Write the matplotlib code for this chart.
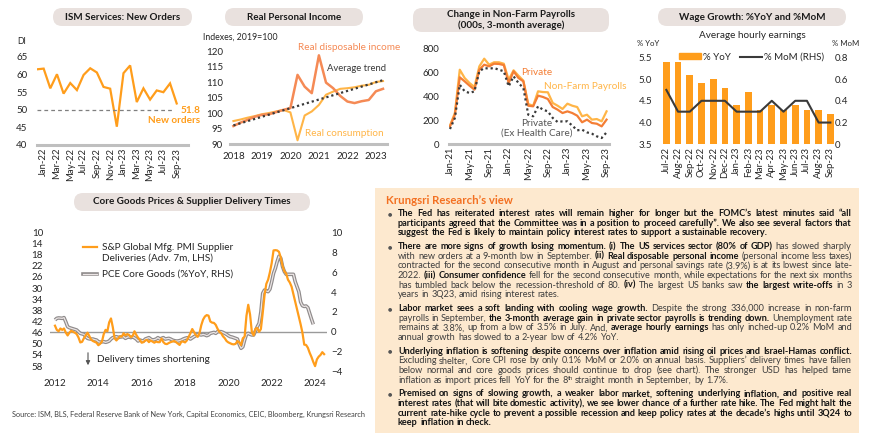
import re
import numpy as np
import pandas as pd
import matplotlib
matplotlib.use('Agg')
import matplotlib.pyplot as plt
from matplotlib.patches import FancyBboxPatch, Rectangle, Patch
from matplotlib.lines import Line2D
from matplotlib.transforms import Affine2D
from matplotlib.textpath import text_to_path
from matplotlib.font_manager import FontProperties

W, H = 870, 437

ORANGE = '#ff9d1b'
SALMON = '#f58a55'
LIGHT_OR = '#ffb547'
PRIVATE = '#f47e35'
DARK = '#3a3a3a'
AXGRAY = '#bfbfbf'
PILL = '#e9e1de'
TXT = '#262626'

# ---------------- data ----------------
# ISM services new orders, Dec-21 .. Sep-23
ism_new_orders = [61.5, 61.7, 56.1, 60.1, 54.6, 57.6, 55.6, 59.9, 61.8, 60.6, 56.5,
                  56.0, 45.2, 60.4, 62.6, 52.2, 56.1, 52.9, 55.5, 55.0, 57.5, 51.8]

# real personal income, quarterly 2018Q1 .. 2023Q2 (2019=100)
rpi_quarters = pd.period_range('2018Q1', '2023Q2', freq='Q')
real_disp_income = [95.8, 96.9, 97.8, 98.8, 99.4, 99.6, 100.3, 101.0, 101.6, 112.3, 108.5,
                    106.4, 118.6, 109.8, 108.0, 105.5, 103.7, 103.2, 103.8, 104.2, 107.0, 107.8]
real_consumption = [97.4, 97.9, 98.5, 99.0, 99.6, 100.0, 100.5, 101.0, 100.2, 91.2, 99.2,
                    100.5, 102.6, 105.9, 106.9, 107.8, 108.0, 108.3, 108.8, 109.1, 110.0, 110.3]
trend_ends = [96.0, 110.6]

# non-farm payrolls, 3-month average, Jan-21 .. Sep-23 (000s)
nfp = [153, 258, 619, 550, 508, 475, 647, 711, 661, 681, 681, 669, 536, 614, 569, 528, 333,
       319, 439, 433, 431, 342, 319, 292, 336, 319, 308, 231, 244, 203, 208, 189, 272]
private = [147, 244, 556, 522, 486, 453, 619, 661, 647, 669, 667, 658, 508, 606, 550, 522, 319,
           314, 403, 392, 375, 308, 286, 258, 272, 258, 236, 181, 203, 175, 169, 147, 203]
private_ex_health = [125, 217, 494, 439, 425, 439, 606, 633, 628, 633, 619, 606, 481, 564, 508,
                     467, 244, 231, 314, 286, 272, 217, 183, 189, 189, 153, 114, 119, 97, 86, 64,
                     50, 97]

# wage growth, Jul-22 .. Sep-23
wage_months = ['Jul-22', 'Aug-22', 'Sep-22', 'Oct-22', 'Nov-22', 'Dec-22', 'Jan-23', 'Feb-23',
               'Mar-23', 'Apr-23', 'May-23', 'Jun-23', 'Jul-23', 'Aug-23', 'Sep-23']
ahe_yoy = [5.4, 5.4, 5.1, 4.9, 5.0, 4.8, 4.4, 4.7, 4.3, 4.4, 4.3, 4.4, 4.3, 4.3, 4.2]
ahe_mom = [0.5, 0.3, 0.3, 0.4, 0.4, 0.4, 0.3, 0.3, 0.3, 0.4, 0.3, 0.4, 0.4, 0.2, 0.2]

# supplier deliveries (advanced 7m, from Jan-12) and PCE core goods %YoY (from Jan-12)
supplier_deliveries = [
    43.5, 45, 45.5, 44.5, 45, 44.5, 46, 47, 46, 45.3, 45.7, 46,
    46.5, 47.7, 49.5, 49.3, 48, 47, 46, 47.2, 48.5, 49, 49.3, 49.6,
    50.5, 50, 49.2, 46.5, 45, 45.5, 42.3, 40.9, 44, 48, 48.8, 48,
    47.3, 47.4, 46.2, 47, 46.5, 46.8, 47.6, 47.2, 45.5, 46.8, 47.8, 48.6,
    49.6, 49.4, 48.8, 48.6, 49.4, 48.8, 49.2, 49.6, 49.2, 49.4, 49.4, 48.1,
    49.4, 50, 50.1, 49.7, 49.4, 49.2, 49, 49.4, 49.9, 50.4, 49.2, 49.2,
    49.5, 48.8, 47.5, 46.2, 44.7, 45.8, 46.9, 47.5, 46.2, 43.3, 41.3, 40.2,
    39.7, 39.9, 42, 42.4, 42.5, 43.2, 44.6, 45.7, 46.2, 47.3, 48, 49,
    49.5, 49.8, 50.1, 50.2, 50, 49, 49.5, 50.5, 48, 47.4, 40, 36,
    39.5, 45.8, 47, 44.6, 44.3, 45.7, 44.7, 39, 32.7, 28.5, 27, 24.3,
    21, 16.5, 16.4, 16.5, 17, 19, 22, 24, 24.8, 27, 28, 29.5,
    32.2, 35, 37.7, 40.3, 43, 46, 50.3, 50.4, 51.4, 53.2, 54.7, 56.5,
    58, 55.6, 54.6, 54, 53, 53.7]
pce_core_goods = [
    1.2, 1.36, 1.4, 1.38, 1.36, 1.43, 1.0, 0.52, 0.42, 0.36, 0.29, 0.24,
    0.19, 0.02, -0.15, -0.2, -0.25, -0.48, -0.65, -0.7, -0.72, -0.72, -0.78, -0.82,
    -0.98, -1.05, -1.0, -0.98, -1.05, -1.0, -0.92, -0.72, -0.58, -0.52, -0.48, -0.58,
    -0.52, -0.5, -0.48, -0.65, -0.55, -0.48, -0.58, -0.48, -0.6, -0.72, -0.92, -0.82,
    -0.88, -0.92, -0.72, -0.65, -0.58, -0.72, -0.82, -0.78, -0.72, -0.58, -0.72, -0.65,
    -0.58, -0.72, -0.68, -0.65, -0.72, -0.82, -0.88, -0.92, -0.92, -0.88, -0.82, -0.72,
    -0.65, -0.6, -0.58, -0.72, -0.6, -0.48, -0.38, -0.25, -0.28, -0.31, -0.25, -0.3,
    -0.38, -0.31, -0.15, -0.1, -0.05, -0.15, 0.02, 0.02, 0.02, -0.05, -0.15, -0.25,
    -0.38, -0.48, -0.52, -0.58, -0.65, -0.72, -1.25, -1.65, -1.5, -0.82, -0.25, -0.15,
    -0.25, -0.31, -0.31, 0.09, 0.52, 0.86, 2.0, 3.87, 4.2, 4.1, 4.04, 4.3,
    5.04, 5.88, 6.38, 7.05, 7.6, 7.4, 6.55, 6.05, 5.78, 5.78, 5.78, 5.78,
    5.78, 5.04, 4.54, 4.04, 3.0, 2.63, 2.55, 2.6, 2.43, 1.86, 1.29, 0.76]

# commentary, one entry per printed line; **...** = bold, ^{..} = superscript
paragraphs = [
    ["**The Fed has reiterated interest rates will remain higher for longer but the FOMC\u2019s latest minutes said \u201call**",
     "**participants agreed that the Committee was in a position to proceed carefully\u201d. We also see several factors that**",
     "**suggest the Fed is likely to maintain policy interest rates to support a sustainable recovery.**"],
    ["**There are more signs of growth losing momentum. (i) The US services sector (80% of GDP)** has slowed sharply",
     "with new orders at a 9-month low in September. **(ii) Real disposable personal income** (personal income less taxes)",
     "contracted for the second consecutive month in August and personal savings rate (3.9%) is at its lowest since late-",
     "2022. **(iii) Consumer confidence** fell for the second consecutive month, while expectations for the next six months",
     "has tumbled back below the recession-threshold of 80. **(iv)** The largest US banks saw **the largest write-offs** in 3",
     "years in 3Q23, amid rising interest rates."],
    ["**Labor market sees a soft landing with cooling wage growth.** Despite the strong 336,000 increase in non-farm",
     "payrolls in September, **the 3-month average gain in private sector payrolls is trending down.** Unemployment rate",
     "remains at 3.8%, up from a low of 3.5% in July. And, **average hourly earnings** has only inched-up 0.2% MoM and",
     "annual growth has slowed to a 2-year low of 4.2% YoY."],
    ["**Underlying inflation is softening despite concerns over inflation amid rising oil prices and Israel-Hamas conflict.**",
     "Excluding shelter, Core CPI rose by only 0.1% MoM or 2.0% on annual basis. Suppliers\u2019 delivery times have fallen",
     "below normal and core goods prices should continue to drop (see chart). The stronger USD has helped tame",
     "inflation as import prices fell YoY for the 8^{th} straight month in September, by 1.7%."],
    ["**Premised on signs of slowing growth, a weaker labor market, softening underlying inflation, and positive real**",
     "**interest rates (that will bite domestic activity), we see lower chance of a further rate hike. The Fed might halt the**",
     "**current rate-hike cycle to prevent a possible recession and keep policy rates at the decade\u2019s highs until 3Q24 to**",
     "**keep inflation in check.**"],
]

source_text = ('Source: ISM, BLS, Federal Reserve Bank of New York, Capital Economics, CEIC, '
               'Bloomberg, Krungsri Research')

# ---------------- figure ----------------
plt.rcParams['font.family'] = ['Lato', 'DejaVu Sans']
plt.rcParams['text.color'] = TXT
plt.rcParams['xtick.color'] = TXT
plt.rcParams['ytick.color'] = TXT

fig = plt.figure(figsize=(W / 100, H / 100), dpi=100)
fig.patch.set_facecolor('white')
# pixel coordinates, origin top-left
PX = Affine2D().scale(0.01, -0.01).translate(0, H / 100) + fig.dpi_scale_trans


def px_axes(l, t, r, b):
    return fig.add_axes([l / W, 1 - b / H, (r - l) / W, (b - t) / H])


def pill(x0, y0, x1, y1, title):
    p = FancyBboxPatch((x0, y0), x1 - x0, y1 - y0, boxstyle='round,pad=0,rounding_size=9',
                       transform=PX, fc=PILL, ec='none')
    fig.add_artist(p)
    fig.text((x0 + x1) / 2, (y0 + y1) / 2, title, transform=PX, ha='center', va='center',
             fontsize=7.1, fontweight='bold', color='#1a1a1a', linespacing=1.1)


def clean(ax, keep_bottom=True):
    for s in ['top', 'left', 'right']:
        ax.spines[s].set_visible(False)
    if keep_bottom:
        ax.spines['bottom'].set_color(AXGRAY)
        ax.spines['bottom'].set_linewidth(2.2)
    else:
        ax.spines['bottom'].set_visible(False)
    ax.tick_params(length=0, labelsize=7)
    ax.patch.set_alpha(0)


# ---- chart 1: ISM services new orders ----
pill(53, 8, 192, 26, 'ISM Services: New Orders')
ism_labels = pd.date_range('2021-12-01', periods=len(ism_new_orders), freq='MS').strftime('%b-%y')
ax1 = px_axes(37, 57, 188, 145)
x1 = np.arange(len(ism_new_orders))
ax1.plot(x1, ism_new_orders, color=ORANGE, lw=1.6, solid_joinstyle='miter')
ax1.hlines(50, 0, 20.5, colors='#7f7f7f', linestyles=(0, (3, 2.5)), lw=0.9)
ax1.set_xlim(0, 22.7)
ax1.set_ylim(40, 65)
ax1.set_yticks([40, 45, 50, 55, 60, 65])
ax1.set_xticks(x1[1::2])
ax1.set_xticklabels(ism_labels[1::2], rotation=90)
clean(ax1)
ax1.tick_params(axis='y', pad=7)
ax1.tick_params(axis='x', pad=2, labelsize=6.8)
ax1.text(24.5, 49.9, '%.1f' % ism_new_orders[-1], color=ORANGE, fontsize=7.2, fontweight='bold',
         ha='right', va='center', clip_on=False)
ax1.text(24.5, 47.0, 'New orders', color=ORANGE, fontsize=7.2, fontweight='bold',
         ha='right', va='center', clip_on=False)
fig.text(22, 42, 'DI', transform=PX, fontsize=6.3, ha='center', va='center')

# ---- chart 2: real personal income ----
pill(225, 8, 363, 26, 'Real Personal Income')
xq = rpi_quarters.year + (rpi_quarters.quarter - 1) / 4
ax2 = px_axes(230, 51, 387, 144)
ax2.plot(xq, real_consumption, color=LIGHT_OR, lw=1.5)
ax2.plot(xq, real_disp_income, color=SALMON, lw=1.8)
ax2.plot([xq[0], xq[-1]], trend_ends, color=DARK, lw=1.6, linestyle=(0, (1, 1.3)))
ax2.set_xlim(2017.88, 2023.39)
ax2.set_ylim(90, 120)
ax2.set_yticks(range(90, 121, 5))
ax2.set_xticks(range(2018, 2024))
clean(ax2)
ax2.tick_params(axis='y', pad=5)
ax2.tick_params(axis='x', pad=6)
ax2.text(2020.25, 121.0, 'Real disposable income', color=SALMON, fontsize=7.2, va='center',
         clip_on=False)
ax2.text(2021.3, 114.4, 'Average trend', color=DARK, fontsize=6.8, va='center')
ax2.text(2020.5, 93.3, 'Real consumption', color=LIGHT_OR, fontsize=7.2, va='center')
fig.text(203, 37, 'Indexes, 2019=100', transform=PX, fontsize=6.3, va='center')

# ---- chart 3: non-farm payrolls ----
pill(413, 8, 609, 32, 'Change in Non-Farm Payrolls\n(000s, 3-month average)')
nfp_labels = pd.date_range('2021-01-01', periods=len(nfp), freq='MS').strftime('%b-%y')
ax3 = px_axes(449, 48, 609, 144)
x3 = np.arange(len(nfp))
ax3.plot(x3, nfp, color=LIGHT_OR, lw=1.6)
ax3.plot(x3, private, color=PRIVATE, lw=1.6)
ax3.plot(x3, private_ex_health, color=DARK, lw=1.6, linestyle=(0, (1, 1.3)))
ax3.set_xlim(-0.2, 32.5)
ax3.set_ylim(0, 800)
ax3.set_yticks(range(0, 801, 200))
ax3.set_xticks(x3[::4])
ax3.set_xticklabels(nfp_labels[::4], rotation=90)
clean(ax3)
ax3.tick_params(axis='y', pad=7)
ax3.tick_params(axis='x', pad=2, labelsize=6.8)
ax3.text(14.6, 595, 'Private', color=PRIVATE, fontsize=7.2, va='center')
ax3.text(19.3, 480, 'Non-Farm Payrolls', color=LIGHT_OR, fontsize=7.2, va='center')
ax3.text(17.7, 170, 'Private', color='#555555', fontsize=7.2, va='center', ha='center')
ax3.text(17.7, 95, '(Ex Health Care)', color='#555555', fontsize=7.2, va='center', ha='center')

# ---- chart 4: wage growth ----
pill(658, 8, 846, 26, 'Wage Growth: %YoY and %MoM')
ax4 = px_axes(660.5, 57.3, 836.2, 144.3)
x4 = np.arange(len(wage_months))
ax4.bar(x4, [v - 3.5 for v in ahe_yoy], bottom=3.5, width=0.58, color=ORANGE, zorder=1)
ax4.set_xlim(-0.5, len(wage_months) - 0.5)
ax4.set_ylim(3.5, 5.5)
ax4.set_yticks([3.5, 4.0, 4.5, 5.0, 5.5])
ax4.set_yticklabels(['%.1f' % v for v in [3.5, 4.0, 4.5, 5.0, 5.5]])
ax4.set_xticks(x4)
ax4.set_xticklabels(wage_months, rotation=90)
clean(ax4, keep_bottom=False)
ax4.tick_params(axis='y', pad=6)
ax4.tick_params(axis='x', pad=2, labelsize=6.8)
ax4r = ax4.twinx()
ax4r.plot(x4, ahe_mom, color=DARK, lw=1.5)
ax4r.set_ylim(0, 0.8)
ax4r.set_yticks([0, 0.2, 0.4, 0.6, 0.8])
ax4r.set_yticklabels(['0', '0.2', '0.4', '0.6', '0.8'])
clean(ax4r, keep_bottom=False)
ax4r.tick_params(axis='y', pad=-1)
ax4r.legend(handles=[Patch(color=ORANGE, label='% YoY'),
                     Line2D([], [], color=DARK, lw=1.5, label='% MoM (RHS)')],
            loc='center', bbox_to_anchor=(0.52, 1.0), ncol=2, frameon=False, fontsize=7,
            handlelength=2.2, handleheight=0.55, columnspacing=0.9, handletextpad=0.3)
fig.text(752, 36, 'Average hourly earnings', transform=PX, fontsize=7.2, ha='center', va='center')
fig.text(637, 43, '% YoY', transform=PX, fontsize=5.6, va='center')
fig.text(859, 43, '% MoM', transform=PX, fontsize=5.6, ha='right', va='center')

# ---- chart 5: core goods prices & supplier delivery times ----
pill(74, 193, 310, 211, 'Core Goods Prices & Supplier Delivery Times')
d_sd = pd.date_range('2012-01-01', periods=len(supplier_deliveries), freq='MS')
d_pce = pd.date_range('2012-01-01', periods=len(pce_core_goods), freq='MS')
xs_sd = d_sd.year + (d_sd.month - 1) / 12
xs_pce = d_pce.year + (d_pce.month - 1) / 12
ax5 = px_axes(50, 232.3, 327, 371.7)
ax5r = ax5.twinx()
ax5r.axhline(0, color='#9a9a9a', lw=1.0, zorder=1)
ax5r.plot(xs_pce, pce_core_goods, color='#8f8b8b', lw=2.6, zorder=2, solid_capstyle='butt')
ax5r.plot(xs_pce, pce_core_goods, color='#ece6e6', lw=0.9, zorder=3)
ax5.plot(xs_sd, supplier_deliveries, color=ORANGE, lw=1.6)
ax5.set_zorder(ax5r.get_zorder() + 1)
ax5.set_xlim(2011.77, 2024.55)
ax5.set_ylim(60, 10)
ax5.set_yticks(range(10, 59, 4))
ax5r.set_ylim(-4, 10)
ax5r.set_yticks(range(-4, 11, 2))
ax5.set_xticks(range(2012, 2025, 2))
clean(ax5, keep_bottom=False)
clean(ax5r, keep_bottom=False)
ax5.tick_params(axis='y', pad=5)
ax5.tick_params(axis='x', pad=5)
ax5r.tick_params(axis='y', pad=3)
# legend drawn by hand, as in the original
fig.add_artist(Line2D([83, 97], [247, 247], transform=PX, color=ORANGE, lw=1.6))
fig.add_artist(Line2D([83, 97], [274, 274], transform=PX, color='#8f8b8b', lw=2.6))
fig.add_artist(Line2D([83, 97], [274, 274], transform=PX, color='#ece6e6', lw=0.9))
fig.text(102, 247, 'S&P Global Mfg. PMI Supplier', transform=PX, fontsize=7.2, va='center')
fig.text(102, 258, 'Deliveries (Adv. 7m, LHS)', transform=PX, fontsize=7.2, va='center')
fig.text(102, 274, 'PCE Core Goods (%YoY, RHS)', transform=PX, fontsize=7.2, va='center')
ax5.annotate('', xy=(88, 368), xytext=(88, 350), xycoords=PX, textcoords=PX,
             arrowprops=dict(arrowstyle='-|>', color='#555555', lw=0.8, mutation_scale=6))
fig.text(97, 359, 'Delivery times shortening', transform=PX, fontsize=7.2, va='center')

fig.text(12, 414, source_text, transform=PX, fontsize=5.3, color='#404040', va='center')

# ---- commentary panel ----
fig.add_artist(Rectangle((375, 188), 484, 245, transform=PX, fc='#fde9cf', ec='none', zorder=0))
fig.text(386, 200, 'Krungsri Research\u2019s view', transform=PX, fontsize=8.2, fontweight='bold',
         color='#f37021', va='center')

TX0, TX1 = 398, 852
PT = 100 / 72     # pixels per point
FP = {False: FontProperties(family='Lato', weight='normal'),
      True: FontProperties(family='Lato', weight='bold')}
renderer = fig.canvas.get_renderer()


def parse_words(line):
    words, cur, bold = [], [], False
    for k, seg in enumerate(line.split('**')):
        if k > 0:
            bold = not bold
        for j, part in enumerate(seg.split(' ')):
            if j > 0 and cur:
                words.append(cur)
                cur = []
            for m, sub in enumerate(re.split(r'\^\{(.*?)\}', part)):
                if sub:
                    cur.append((sub, bold, m % 2 == 1))
    if cur:
        words.append(cur)
    return words


def advance(s, bold, size):
    fp = FP[bold].copy()
    fp.set_size(size)
    w, h, d = text_to_path.get_text_width_height_descent(s, fp, ismath=False)
    return w * PT


parsed = [[parse_words(ln) for ln in para] for para in paragraphs]

# largest font size at which every line fits the column with normal-ish spacing
trial = 6.0
sp_trial = advance('a a', False, trial) - advance('aa', False, trial)
natural = []
for para in parsed:
    for words in para:
        ws = sum(advance(s, b, trial * (0.62 if sp else 1)) for word in words for s, b, sp in word)
        natural.append(ws + 0.8 * sp_trial * (len(words) - 1))
FS = min(6.6, trial * (TX1 - TX0) / max(natural))
space_px = advance('a a', False, FS) - advance('aa', False, FS)

y = 216
for para in parsed:
    fig.text(388, y - 2.6, '\u25cf', transform=PX, fontsize=3.6, color='#555555',
             family='DejaVu Sans', ha='left', va='center')
    for li, words in enumerate(para):
        arts = []
        wsum = 0
        for word in words:
            pieces = []
            for s, b, sp in word:
                t = fig.text(0, y, s, transform=PX, fontsize=FS * (0.62 if sp else 1),
                             fontweight='bold' if b else 'normal',
                             color='#141414' if b else '#3d3d3d', va='baseline')
                pieces.append((t, t.get_window_extent(renderer).width, sp))
            arts.append(pieces)
            wsum += sum(p[1] for p in pieces)
        last = li == len(para) - 1
        gap = space_px if (last or len(arts) < 2) else (TX1 - TX0 - wsum) / (len(arts) - 1)
        x = TX0
        for pieces in arts:
            for t, w, sp in pieces:
                t.set_position((x, y - (2.8 if sp else 0)))
                x += w
            x += gap
        y += 9.67
    y += 4.0

fig.savefig('out.png', dpi=100)
